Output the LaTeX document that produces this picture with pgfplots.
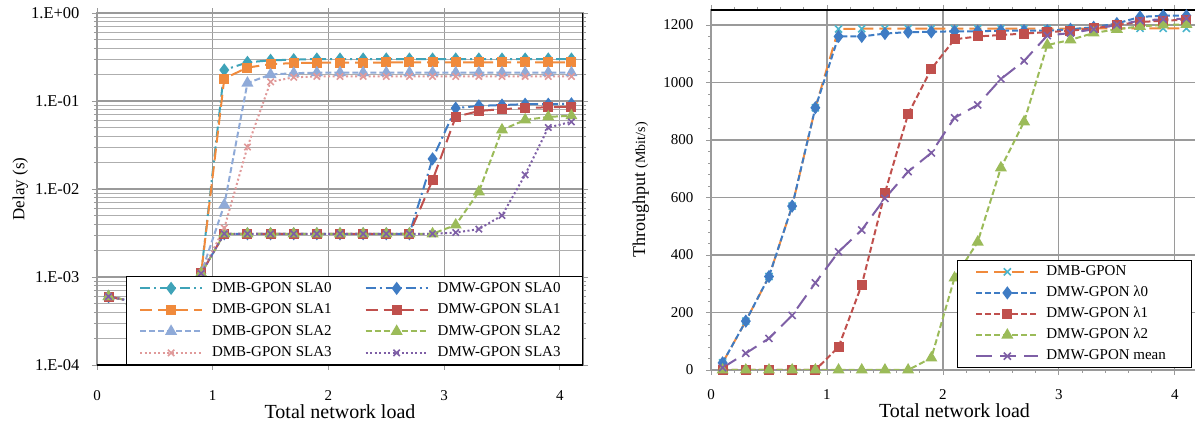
\documentclass[border=0pt]{standalone}
\usepackage{fontspec}
\setmainfont{Liberation Serif}
\usepackage{pgfplots}
\usepackage{pgfplotstable}
\pgfplotsset{compat=1.18}

\definecolor{cteal}{HTML}{3FA3B8}
\definecolor{corange}{HTML}{F08A3C}
\definecolor{cltblue}{HTML}{8FAAD8}
\definecolor{cpink}{HTML}{E09A9A}
\definecolor{cblue}{HTML}{3F7CC4}
\definecolor{cred}{HTML}{C0504D}
\definecolor{cgreen}{HTML}{9BBB59}
\definecolor{cpurple}{HTML}{7E5FA6}
\definecolor{ccyan}{HTML}{4BB5CC}
\definecolor{cgrid}{HTML}{9A9A9A}

% delay vs. load (left)
\pgfplotstableread{
x    a0     a1     a2     a3     b0     b1     b2     b3
0.1  6.0e-4 6.0e-4 6.0e-4 6.0e-4 6.0e-4 6.0e-4 6.0e-4 6.0e-4
0.3  5.3e-4 5.3e-4 5.3e-4 5.3e-4 5.3e-4 5.3e-4 5.3e-4 5.3e-4
0.5  5.5e-4 5.5e-4 5.5e-4 5.5e-4 5.5e-4 5.5e-4 5.5e-4 5.5e-4
0.7  6.2e-4 6.2e-4 6.2e-4 6.2e-4 6.2e-4 6.2e-4 6.2e-4 6.2e-4
0.9  1.1e-3 1.1e-3 1.1e-3 1.1e-3 1.1e-3 1.1e-3 1.1e-3 1.1e-3
1.1  0.225  0.18   0.0066 0.0036 0.0031 0.0031 0.0031 0.0031
1.3  0.275  0.24   0.16   0.030  0.0031 0.0031 0.0031 0.0031
1.5  0.29   0.262  0.20   0.165  0.0031 0.0031 0.0031 0.0031
1.7  0.295  0.27   0.207  0.186  0.0031 0.0031 0.0031 0.0031
1.9  0.30   0.272  0.21   0.19   0.0031 0.0031 0.0031 0.0031
2.1  0.30   0.273  0.21   0.19   0.0031 0.0031 0.0031 0.0031
2.3  0.30   0.273  0.21   0.19   0.0031 0.0031 0.0031 0.0031
2.5  0.30   0.274  0.21   0.19   0.0031 0.0031 0.0031 0.0031
2.7  0.30   0.274  0.21   0.19   0.0031 0.0031 0.0031 0.0031
2.9  0.30   0.275  0.21   0.19   0.022  0.0126 0.0031 0.0031
3.1  0.30   0.275  0.21   0.19   0.083  0.066  0.0039 0.0032
3.3  0.30   0.275  0.21   0.19   0.088  0.077  0.0093 0.0035
3.5  0.30   0.275  0.21   0.19   0.090  0.081  0.047  0.0050
3.7  0.30   0.275  0.21   0.19   0.092  0.083  0.061  0.0145
3.9  0.30   0.275  0.21   0.19   0.092  0.085  0.066  0.050
4.1  0.30   0.275  0.21   0.19   0.093  0.086  0.068  0.058
}\delaytab

% throughput vs. load (right)
\pgfplotstableread{
x    dmb   l0    l1    l2    mean
0.1  25    25    0     0     8
0.3  170   170   0     0     58
0.5  325   325   0     0     110
0.7  570   570   0     0     190
0.9  912   912   0     0     303
1.1  1186  1160  80    0     411
1.3  1187  1160  296   0     487
1.5  1187  1170  616   0     597
1.7  1187  1175  890   0     690
1.9  1187  1176  1047  42    755
2.1  1187  1178  1150  320   877
2.3  1187  1178  1160  445   922
2.5  1187  1180  1165  703   1012
2.7  1187  1180  1170  863   1075
2.9  1187  1180  1175  1130  1163
3.1  1187  1185  1180  1148  1172
3.3  1188  1192  1188  1172  1185
3.5  1188  1205  1200  1185  1200
3.7  1188  1228  1210  1195  1215
3.9  1188  1232  1215  1200  1220
4.1  1188  1232  1218  1202  1222
}\thrtab

\pgfplotsset{
  every axis/.append style={
    scale only axis,
    font=\fontsize{15}{18}\selectfont,
    /pgf/number format/assume math mode=true,
    /pgf/number format/1000 sep={},
    tick align=outside,
    major tick length=5pt, minor tick length=3pt,
    tick style={cgrid, line width=0.8pt},
    axis line style={cgrid, line width=1.2pt},
    major grid style={cgrid, line width=1.2pt},
    minor grid style={cgrid!80, line width=0.8pt},
    legend cell align=left,
    legend image code/.code={%
      \draw[mark repeat=2,mark phase=2] plot coordinates {(0pt,0pt) (31pt,0pt) (62pt,0pt)};},
  },
  ldash/.style={dash pattern=on 12pt off 6pt},
  mdash/.style={dash pattern=on 6pt off 3pt},
  ddot/.style={dash pattern=on 10pt off 4pt on 2pt off 4pt},
  dots/.style={dash pattern=on 2pt off 2.5pt},
}

\begin{document}
\begin{tikzpicture}
\useasboundingbox (0pt,0pt) rectangle (1195pt,423pt);

\begin{axis}[
  at={(97pt,58pt)}, anchor=south west,
  width=486pt, height=352pt,
  xmin=0, xmax=4.2,
  ymode=log, ymin=1e-4, ymax=1,
  xtick={0,1,2,3,4},
  ytick={1e-4,1e-3,1e-2,1e-1,1},
  yticklabels={1.E-04,1.E-03,1.E-02,1.E-01,1.E+00},
  yticklabel style={font=\fontsize{16.5}{18}\selectfont},
  xmajorgrids, ymajorgrids, yminorgrids,
  xticklabel shift=17pt, yticklabel shift=9pt,
  xlabel={\fontsize{20}{24}\selectfont Total network load},
  xlabel style={at={(axis description cs:0.5,-0.1506)}, anchor=base},
  ylabel={\fontsize{17}{20}\selectfont Delay (s)},
  ylabel style={at={(axis description cs:-0.158,0.5)}, anchor=center},
  legend columns=2,
  legend style={at={(1,0)}, anchor=south east, draw=black, line width=0.8pt,
    fill=white, inner xsep=13pt, inner ysep=1pt,
    nodes={text height=11pt, text depth=3.5pt, inner ysep=3.5pt, inner xsep=9pt},
    /tikz/every even column/.append style={column sep=24pt}},
]
\addplot[cteal, line width=2pt, ddot, mark=diamond*, mark size=5pt, mark options={solid}] table[x=x,y=a0]{\delaytab};
\addplot[cblue, line width=2pt, ddot, mark=diamond*, mark size=5pt, mark options={solid}] table[x=x,y=b0]{\delaytab};
\addplot[corange, line width=2pt, ldash, mark=square*, mark size=4pt, mark options={solid}] table[x=x,y=a1]{\delaytab};
\addplot[cred, line width=2pt, ldash, mark=square*, mark size=4pt, mark options={solid}] table[x=x,y=b1]{\delaytab};
\addplot[cltblue, line width=2pt, mdash, mark=triangle*, mark size=5pt, mark options={solid}] table[x=x,y=a2]{\delaytab};
\addplot[cgreen, line width=2pt, mdash, mark=triangle*, mark size=5pt, mark options={solid}] table[x=x,y=b2]{\delaytab};
\addplot[cpink, line width=2pt, dots, mark=x, mark size=4.5pt, mark options={solid, line width=1.6pt}] table[x=x,y=a3]{\delaytab};
\addplot[cpurple, line width=2pt, dots, mark=x, mark size=4.5pt, mark options={solid, line width=1.6pt}] table[x=x,y=b3]{\delaytab};
\legend{DMB-GPON SLA0, DMW-GPON SLA0, DMB-GPON SLA1, DMW-GPON SLA1,
        DMB-GPON SLA2, DMW-GPON SLA2, DMB-GPON SLA3, DMW-GPON SLA3}
\draw[black, line width=1.5pt] (rel axis cs:0,0) -- (rel axis cs:1,0) -- (rel axis cs:1,1);
\end{axis}

\begin{axis}[
  at={(711pt,53pt)}, anchor=south west,
  width=487pt, height=360pt,
  xmin=0, xmax=4.2, ymin=0, ymax=1252,
  xtick={0,1,2,3,4}, ytick={0,200,400,600,800,1000,1200},
  minor x tick num=4, minor y tick num=4,
  xmajorgrids, ymajorgrids,
  xticklabel shift=11pt, yticklabel shift=9pt,
  xlabel={\fontsize{20}{24}\selectfont Total network load},
  xlabel style={at={(axis description cs:0.5,-0.1333)}, anchor=base},
  ylabel={\fontsize{18}{20}\selectfont Throughput {\fontsize{14}{16}\selectfont(Mbit/s)}},
  ylabel style={at={(axis description cs:-0.144,0.5)}, anchor=center},
  legend style={at={(0.505,0.306)}, anchor=north west, draw=black, line width=0.8pt,
    fill=white, inner xsep=18pt, inner ysep=1pt,
    nodes={text height=11pt, text depth=3.5pt, inner ysep=3.3pt, inner xsep=7pt}},
]
\addplot[corange, line width=2pt, ldash, mark=x, mark size=5pt, mark options={solid, draw=ccyan, line width=1.6pt}] table[x=x,y=dmb]{\thrtab};
\addplot[cblue, line width=2pt, mdash, mark=diamond*, mark size=5pt, mark options={solid}] table[x=x,y=l0]{\thrtab};
\addplot[cred, line width=2pt, mdash, mark=square*, mark size=4pt, mark options={solid}] table[x=x,y=l1]{\thrtab};
\addplot[cgreen, line width=2pt, mdash, mark=triangle*, mark size=5pt, mark options={solid}] table[x=x,y=l2]{\thrtab};
\addplot[cpurple, line width=2pt, dash pattern=on 16pt off 8pt, mark=x, mark size=5pt, mark options={solid, line width=1.6pt}] table[x=x,y=mean]{\thrtab};
\legend{DMB-GPON, DMW-GPON λ0, DMW-GPON λ1, DMW-GPON λ2, DMW-GPON mean}
\draw[black, line width=1.5pt] (rel axis cs:0,1) -- (rel axis cs:1,1);
\end{axis}
\end{tikzpicture}
\end{document}
